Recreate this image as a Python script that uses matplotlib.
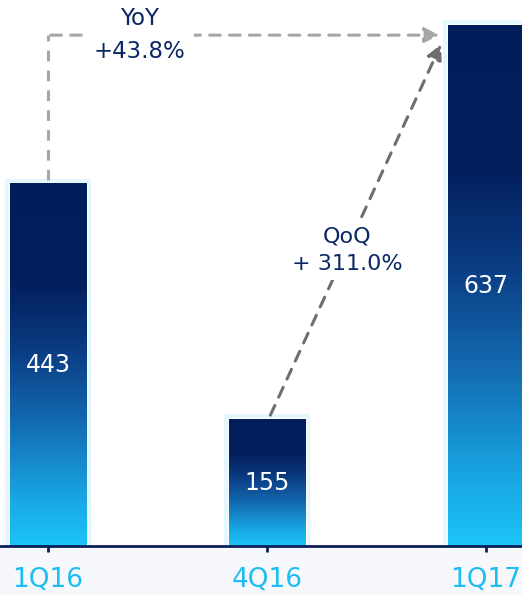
import numpy as np
import matplotlib
matplotlib.use("Agg")
import matplotlib.pyplot as plt
from matplotlib.colors import LinearSegmentedColormap
from matplotlib.patches import Rectangle

quarters = ["1Q16", "4Q16", "1Q17"]
values = [443, 155, 637]
yoy_label = "YoY\n+43.8%"
qoq_label = "QoQ\n+ 311.0%"

navy = "#0B2766"
cyan = "#1DBDF2"

# gradient: bottom (cyan) -> top (navy)
grad = LinearSegmentedColormap.from_list(
    "bar", [(0.0, "#1CC4F8"), (0.12, "#19A9E6"), (0.35, "#1368AE"),
            (0.55, "#0A3A80"), (0.72, "#03205E"), (1.0, "#021D5A")])

fig = plt.figure(figsize=(5.22, 5.95), dpi=100)
fig.patch.set_facecolor("white")
# light band under the axis
fig.add_artist(Rectangle((0, 0), 1, 49 / 595, transform=fig.transFigure,
                         facecolor="#F6F8FC", edgecolor="none", zorder=0))

ax = fig.add_axes([0, 49 / 595, 1, 546 / 595])
ax.set_facecolor("none")
ax.set_xlim(-0.219, 2.164)
ax.set_ylim(0, 668)

x = np.arange(len(quarters))
w = 0.35
g = np.linspace(0, 1, 256).reshape(-1, 1)
for xi, v in zip(x, values):
    # soft glow + white rim
    ax.add_patch(Rectangle((xi - w / 2 - 0.012, 0), w + 0.024, v + 4,
                           facecolor="#D4F2FF", edgecolor="#E3F7FF", lw=3, zorder=1))
    ax.add_patch(Rectangle((xi - w / 2 - 0.004, 0), w + 0.008, v + 1.5,
                           facecolor="white", edgecolor="white", lw=1, zorder=2))
    ax.imshow(g, cmap=grad, origin="lower", aspect="auto",
              extent=[xi - w / 2, xi + w / 2, 0, v], zorder=3)
    ax.text(xi, v / 2, str(v), color="white", fontsize=17,
            ha="center", va="center", zorder=4)

# YoY dashed path
ax.plot([0, 0], [448, 625], color="#A6A6A6", lw=2.2, ls=(0, (3.5, 3)), zorder=5)
ax.annotate("", xy=(1.80, 625), xytext=(0, 625),
            arrowprops=dict(arrowstyle="-|>,head_length=0.9,head_width=0.45",
                            color="#A6A6A6", lw=2.2, ls=(0, (3.5, 3))), zorder=5)
ax.text(0.42, 625, yoy_label, color=navy, fontsize=16.5, ha="center", va="center",
        linespacing=1.55, zorder=6,
        bbox=dict(facecolor="white", edgecolor="none", pad=6))

# QoQ dashed arrow
ax.annotate("", xy=(1.80, 617), xytext=(1.01, 157),
            arrowprops=dict(arrowstyle="-|>,head_length=0.9,head_width=0.45",
                            color="#6E6E6E", lw=2.2, ls=(0, (3.5, 3))), zorder=5)
ax.text(1.365, 362, qoq_label, color=navy, fontsize=16, ha="center", va="center",
        linespacing=1.5, zorder=6,
        bbox=dict(facecolor="white", edgecolor="none", pad=4))

for s in ["top", "right", "left"]:
    ax.spines[s].set_visible(False)
ax.spines["bottom"].set_color("#0B1F5A")
ax.spines["bottom"].set_linewidth(2)
ax.spines["bottom"].set_zorder(7)
ax.set_yticks([])
ax.set_xticks(x)
ax.set_xticklabels(quarters, color=cyan, fontsize=19)
ax.tick_params(axis="x", length=4, width=2, color="#0B1F5A", pad=11)

fig.savefig("out.png", dpi=100)
